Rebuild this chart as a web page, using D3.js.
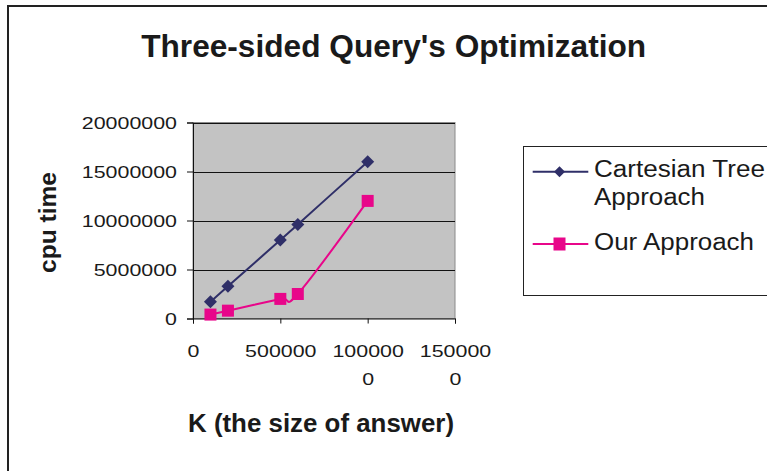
<!DOCTYPE html>
<html>
<head>
<meta charset="utf-8">
<script src="https://cdn.jsdelivr.net/npm/d3@7"></script>
<style>
  html, body { margin: 0; padding: 0; background: #ffffff; }
  svg { display: block; }
  text { font-family: "Liberation Sans", Arial, Helvetica, sans-serif; fill: #1a1a1a; }
</style>
</head>
<body>
<svg id="chart" width="767" height="471"></svg>
<script>
// ---- data ----
const titleText = "Three-sided Query's Optimization";
const xAxisTitle = "K (the size of answer)";
const yAxisTitle = "cpu time";
const kValues = [100000, 200000, 500000, 600000, 1000000];
const cartesianTree = [1700000, 3300000, 8000000, 9600000, 16000000];
const ourApproach = [400000, 800000, 2000000, 2500000, 12000000];
const xTicks = [0, 500000, 1000000, 1500000];
const xTickLabels = [["0"], ["500000"], ["100000", "0"], ["150000", "0"]];
const yTicks = [0, 5000000, 10000000, 15000000, 20000000];
const yTickLabels = ["0", "5000000", "10000000", "15000000", "20000000"];
const seriesNames = [["Cartesian Tree", "Approach"], ["Our Approach"]];

// ---- layout ----
const svg = d3.select("#chart");
const plot = { left: 193, right: 455, top: 122.5, bottom: 318.5 };
const navy = "#2f2f68";
const pink = "#e8068a";

// outer chart border (extends past the right/bottom of the picture)
svg.append("rect")
  .attr("x", 8).attr("y", 6).attr("width", 800).attr("height", 500)
  .attr("fill", "none").attr("stroke", "#222").attr("stroke-width", 2);

const x = d3.scaleLinear().domain([0, 1500000]).range([plot.left, plot.right]);
const y = d3.scaleLinear().domain([0, 20000000]).range([plot.bottom, plot.top]);

// plot background
svg.append("rect")
  .attr("x", plot.left).attr("y", plot.top)
  .attr("width", plot.right - plot.left).attr("height", plot.bottom - plot.top)
  .attr("fill", "#c3c3c3").attr("stroke", "#8a8a8a").attr("stroke-width", 1);

// gridlines
svg.append("g").selectAll("line")
  .data(yTicks.filter(d => d > 0))
  .join("line")
  .attr("x1", plot.left).attr("x2", plot.right)
  .attr("y1", d => Math.round(y(d)) + 0.5).attr("y2", d => Math.round(y(d)) + 0.5)
  .attr("stroke", "#111").attr("stroke-width", 1);

// y axis
const yAxis = svg.append("g")
  .attr("transform", `translate(${plot.left},0)`)
  .call(d3.axisLeft(y).tickValues(yTicks).tickSize(6).tickPadding(10)
    .tickFormat((d, i) => yTickLabels[i]));
yAxis.select(".domain").attr("stroke", "#111");
yAxis.selectAll(".tick line").attr("stroke", "#111");
yAxis.selectAll(".tick text")
  .attr("font-size", 17)
  .attr("font-family", "Liberation Sans, Arial, sans-serif")
  .attr("fill", "#1a1a1a")
  .attr("dy", "0.35em")
  .attr("textLength", (d, i) => yTickLabels[i].length * 11.9)
  .attr("lengthAdjust", "spacingAndGlyphs");

// x axis
const xAxis = svg.append("g")
  .attr("transform", `translate(0,${plot.bottom})`)
  .call(d3.axisBottom(x).tickValues(xTicks).tickSize(5).tickFormat(""));
xAxis.select(".domain").attr("stroke", "#111");
xAxis.selectAll(".tick line").attr("stroke", "#111");

const xLab = svg.append("g");
xTicks.forEach((t, i) => {
  xTickLabels[i].forEach((line, j) => {
    xLab.append("text")
      .attr("x", x(t) + 0.5)
      .attr("y", 356.7 + j * 28.5)
      .attr("text-anchor", "middle")
      .attr("font-size", 17)
      .attr("textLength", line.length * 11.9)
      .attr("lengthAdjust", "spacingAndGlyphs")
      .text(line);
  });
});

// series lines
const line = d3.line()
  .x(d => x(d[0])).y(d => y(d[1]))
  .curve(d3.curveCatmullRom.alpha(0));

const s1 = kValues.map((k, i) => [k, cartesianTree[i]]);
const s2 = kValues.map((k, i) => [k, ourApproach[i]]);

svg.append("path").attr("d", line(s1))
  .attr("fill", "none").attr("stroke", navy).attr("stroke-width", 2);
svg.append("path").attr("d", line(s2))
  .attr("fill", "none").attr("stroke", pink).attr("stroke-width", 2);

// markers
const diamond = (cx, cy, r) => `M${cx},${cy - r}L${cx + r},${cy}L${cx},${cy + r}L${cx - r},${cy}Z`;
svg.append("g").selectAll("path")
  .data(s1).join("path")
  .attr("d", d => diamond(x(d[0]), y(d[1]), 6.5))
  .attr("fill", navy);
svg.append("g").selectAll("rect")
  .data(s2).join("rect")
  .attr("x", d => x(d[0]) - 6).attr("y", d => y(d[1]) - 6)
  .attr("width", 12).attr("height", 12)
  .attr("fill", pink);

// title
svg.append("text")
  .attr("x", 393.7).attr("y", 57.3)
  .attr("text-anchor", "middle")
  .attr("font-size", 32).attr("font-weight", "bold")
  .attr("textLength", 505).attr("lengthAdjust", "spacingAndGlyphs")
  .text(titleText);

// axis titles
svg.append("text")
  .attr("x", 188).attr("y", 431.7)
  .attr("font-size", 26).attr("font-weight", "bold")
  .attr("textLength", 266).attr("lengthAdjust", "spacingAndGlyphs")
  .text(xAxisTitle);

svg.append("text")
  .attr("transform", "translate(56,222.5) rotate(-90)")
  .attr("text-anchor", "middle")
  .attr("font-size", 24).attr("font-weight", "bold")
  .attr("textLength", 101).attr("lengthAdjust", "spacingAndGlyphs")
  .text(yAxisTitle);

// legend
const lg = svg.append("g");
lg.append("rect")
  .attr("x", 523.5).attr("y", 146.5).attr("width", 300).attr("height", 149)
  .attr("fill", "#fff").attr("stroke", "#222").attr("stroke-width", 1);

const legendItems = [
  { name: seriesNames[0], color: navy, marker: "diamond", ly: 171.7, ty: 176.7 },
  { name: seriesNames[1], color: pink, marker: "square", ly: 244, ty: 250 }
];
const legendWidths = { "Cartesian Tree": 171, "Approach": 111, "Our Approach": 160 };
legendItems.forEach(item => {
  lg.append("line")
    .attr("x1", 532.7).attr("x2", 588.3)
    .attr("y1", item.ly).attr("y2", item.ly)
    .attr("stroke", item.color).attr("stroke-width", 2);
  if (item.marker === "diamond") {
    lg.append("path").attr("d", diamond(559.5, item.ly, 5.5)).attr("fill", item.color);
  } else {
    lg.append("rect").attr("x", 553.5).attr("y", item.ly - 6.5)
      .attr("width", 12).attr("height", 13).attr("fill", item.color);
  }
  item.name.forEach((t, j) => {
    lg.append("text")
      .attr("x", 594).attr("y", item.ty + j * 28.3)
      .attr("font-size", 23)
      .attr("textLength", legendWidths[t]).attr("lengthAdjust", "spacingAndGlyphs")
      .text(t);
  });
});
</script>
</body>
</html>
